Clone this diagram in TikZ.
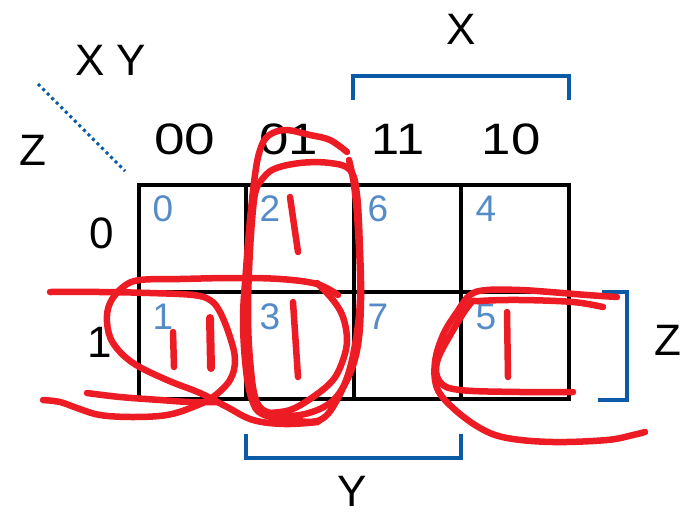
\documentclass[tikz,border=0pt]{standalone}
\usepackage{fontspec}
\setmainfont{Liberation Sans}
\definecolor{kblue}{RGB}{10,90,165}
\definecolor{cellblue}{RGB}{85,140,200}
\definecolor{pen}{RGB}{237,28,36}
\begin{document}
\begin{tikzpicture}[x=1pt,y=-1pt,
  gridline/.style={line width=4pt, black},
  brk/.style={line width=4pt, kblue, line join=miter},
  big/.style={inner sep=0pt, font=\fontsize{44}{44}\selectfont},
  cellnum/.style={inner sep=0pt, text=cellblue, font=\fontsize{37}{37}\selectfont},
  ink/.style={pen, line width=6.5pt, line cap=round, line join=round},
  inkc/.style={ink, smooth, tension=0.6},
]
\useasboundingbox (0,0) rectangle (684,514);
\fill[white] (0,0) rectangle (684,514);

% grid
\draw[gridline] (138.5,185) rectangle (569,399);
\draw[gridline] (245.5,185) -- (245.5,399);
\draw[gridline] (353.5,185) -- (353.5,399);
\draw[gridline] (461,185) -- (461,399);
\draw[gridline] (138.5,292) -- (569,292);

% cell numbers
\node[cellnum] (c0) at (163,208.5) {0};
\node[cellnum] (c2) at (270,208.5) {2};
\node[cellnum] (c6) at (378,208.5) {6};
\node[cellnum] (c4) at (486,208.5) {4};
\node[cellnum] (c1) at (163,316.5) {1};
\node[cellnum] (c3) at (270,316.5) {3};
\node[cellnum] (c7) at (378,316.5) {7};
\node[cellnum] (c5) at (486,316.5) {5};

% headers
\node[big] (h00) at (185,139) {\scalebox{1.25}[1]{00}};
\node[big] (h01) at (289,139) {\scalebox{1.2}[1]{01}};
\node[big] (h11) at (398,139) {\scalebox{1.15}[1]{11}};
\node[big] (h10) at (511,139) {\scalebox{1.2}[1]{10}};
\node[big] (r0) at (102,233) {0};
\node[big] (r1) at (100,342) {1};
\node[big] (xy) at (110.5,60) {X Y};
\node[big] (zl) at (33,150) {Z};
\node[big] (xt) at (461,29) {X};
\node[big] (zr) at (668,340) {Z};
\node[big] (yb) at (352,491) {Y};

% diagonal
\draw[kblue, line width=3pt, dash pattern=on 3pt off 3.4pt] (38,84) -- (125,171);

% brackets
\draw[brk] (353,100) -- (353,76) -- (569,76) -- (569,100);
\draw[brk] (245.5,434) -- (245.5,457.5) -- (461,457.5) -- (461,434);
\draw[brk] (602,291.5) -- (627,291.5) -- (627,400) -- (598,400);

% red strokes
\draw[ink] plot[inkc] coordinates {(50,292) (100,292) (150,293) (193,295) (210,300) (220,312) (230,337) (235,360) (230,380) (213,397) (193,407) (167,415) (133,417) (100,415) (77,408) (60,402) (43,400)};
\draw[ink] plot[inkc] coordinates {(87,393) (120,397) (160,400) (190,402) (217,402)};
\draw[ink] plot[inkc] coordinates {(338,295) (317,284) (280,279) (233,278) (180,279) (140,280) (123,287) (110,303) (107,322) (113,343) (133,363) (167,380) (200,393) (227,407) (253,420) (285,424) (318,422)};
\draw[ink] (173,332) -- (174,367);
\draw[ink, line width=8pt] (210,318) -- (211,368);

\draw[ink] plot[inkc] coordinates {(347,152) (330,140) (310,135) (285,130) (268,136) (260,150) (255,175) (250,220) (246,270) (243,320) (246,370) (252,400) (262,414) (290,420) (320,420) (338,398) (352,360) (360,300) (358,230) (354,185) (349,160)};
\draw[ink] plot[inkc] coordinates {(258,185) (272,170) (300,163) (330,163) (350,170) (357,195) (360,250) (361,300) (358,345) (348,378) (330,403) (300,415) (270,413) (256,400) (250,360) (248,310) (250,250) (254,200) (258,185)};
\draw[ink] plot[inkc] coordinates {(317,283) (333,300) (343,317) (347,340) (343,360) (333,380) (313,397) (290,410) (267,413)};
\draw[ink] (290,197) -- (298,252);
\draw[ink] (293,302) -- (298,377);

\draw[ink] plot[inkc] coordinates {(617,297) (587,295) (550,292) (520,290) (487,290) (470,295) (457,312) (443,335) (435,362) (437,388) (453,408) (480,428) (507,438) (553,442) (607,440) (633,435) (645,432)};
\draw[ink] plot[inkc] coordinates {(603,307) (573,302) (520,300) (480,301) (470,304) (452,332) (437,362) (440,382) (460,390) (520,392) (573,392)};
\draw[ink] (507,312) -- (508,377);
\end{tikzpicture}
\end{document}
